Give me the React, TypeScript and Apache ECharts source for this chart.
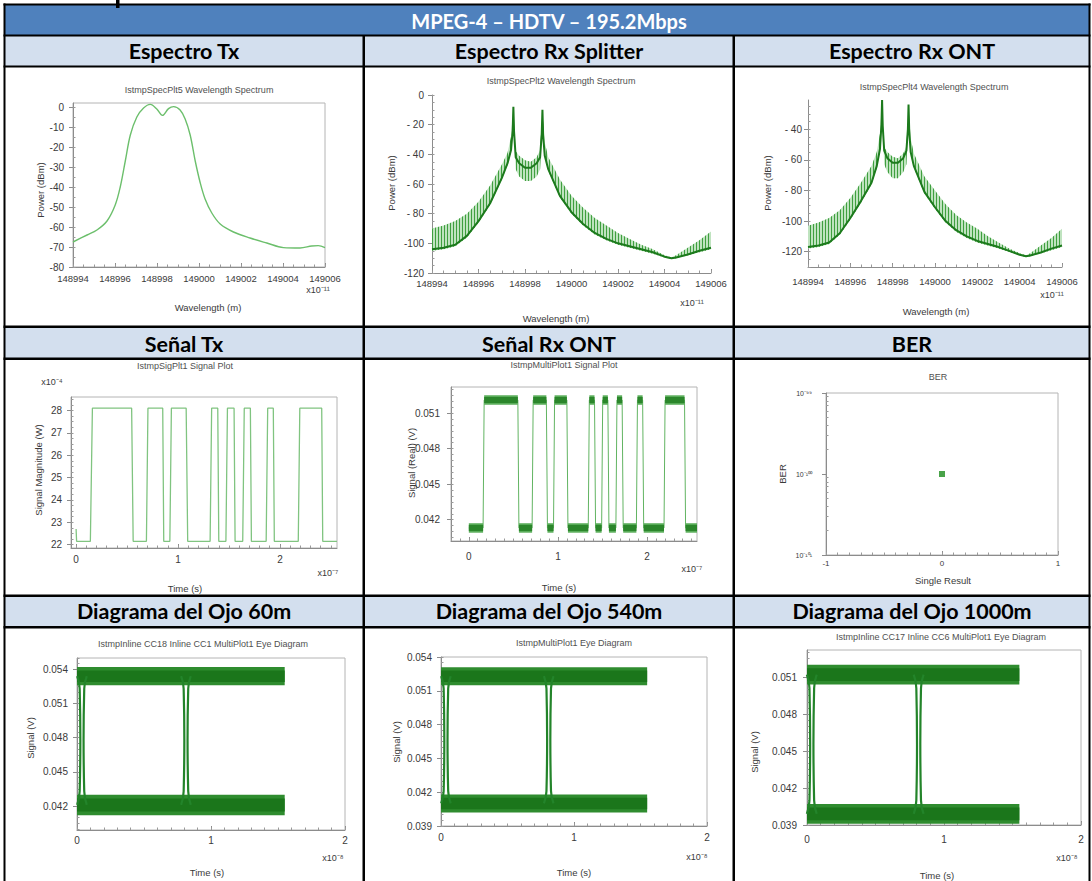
import { useEffect, useRef } from "react";
import * as echarts from "echarts";

// ---------- Espectro Tx : wavelength (x10^-11 m) / power (dBm)
const txSpecWl = [148994, 148994.67, 148995.14, 148995.62, 148996.01, 148996.25, 148996.49, 148996.73, 148997.04, 148997.36, 148997.68, 148997.99, 148998.26, 148998.55, 148998.79, 148999.1, 148999.34, 148999.58, 148999.82, 149000.06, 149000.29, 149000.61, 149001.01, 149001.64, 149002.43, 149003.23, 149004.02, 149004.81, 149005.37, 149005.68, 149006];
const txSpecDbm = [-67.5, -64, -61.5, -57, -49, -40, -27, -14, -5, -0.5, 1.3, -1, -4.2, -0.8, 0.2, -1.5, -6, -14, -27, -38, -46, -53, -58.5, -62.5, -65.5, -68, -70.3, -70.5, -69.5, -69.3, -70.3];

// ---------- Espectro Rx Splitter : ripple band (low/high edge) and dense core trace
const rxSplitWl = [148994, 148994.5, 148995, 148995.5, 148996, 148996.5, 148997, 148997.25, 148997.4, 148997.47, 148997.5, 148997.53, 148997.6, 148997.75, 148998, 148998.25, 148998.5, 148998.65, 148998.72, 148998.75, 148998.78, 148998.85, 148999, 148999.5, 149000, 149000.5, 149001, 149001.5, 149002, 149002.5, 149003, 149003.5, 149004, 149004.3, 149004.5, 149005, 149005.5, 149006];
const rxSplitLow = [-105, -104, -102, -96, -86, -74, -57, -47, -38, -25, -8, -25, -50, -55, -58, -58, -55, -50, -28, -10, -28, -42, -51, -69, -80, -88, -94, -98, -101, -103, -105, -107, -109.5, -110.5, -110, -108, -106, -104];
const rxSplitHigh = [-90, -88, -85, -80, -72, -61, -47, -39, -28, -14, -8, -15, -38, -41, -44, -45, -42, -37, -18, -10, -18, -32, -42, -57, -68, -76, -83, -88, -93, -97, -101, -104, -108, -109.5, -108, -103, -98, -92];
const rxSplitCore = [-104, -103, -101, -95, -85, -73, -56, -46, -37, -24, -8, -25, -42, -46, -49, -49, -46, -42, -26, -10, -27, -41, -50, -68, -79, -87, -93, -97, -100, -102, -104, -106, -109, -110, -109.5, -107.5, -105, -103];

// ---------- Espectro Rx ONT
const rxOntWl = rxSplitWl;
const rxOntLow = [-118, -117, -115, -109, -99, -88, -76, -65, -54, -38, -21, -38, -63, -68, -72, -72, -68, -63, -41, -24, -41, -56, -65, -82, -92, -101, -107, -111, -114, -116, -118, -120, -122.5, -123.5, -123, -121, -119, -117];
const rxOntHigh = [-103, -101, -98, -93, -85, -75, -64, -55, -43, -28, -21, -29, -52, -55, -58, -59, -56, -51, -32, -24, -32, -46, -56, -71, -80, -89, -96, -101, -105, -110, -114, -118, -121, -122.5, -121, -116, -111, -105];
const rxOntCore = [-117, -116, -114, -108, -98, -87, -75, -64, -53, -37, -21, -38, -54, -59, -62, -62, -59, -54, -40, -24, -40, -55, -64, -81, -91, -100, -106, -110, -113, -115, -117, -119.5, -122, -123, -122.5, -120.5, -118, -116];

// ---------- Señal Tx : time (x10^-7 s) / magnitude (x10^-4 W)
const txSigT = [0, 0.005, 0.14, 0.16, 0.545, 0.56, 0.69, 0.705, 0.85, 0.86, 0.92, 0.935, 1.08, 1.095, 1.315, 1.33, 1.39, 1.4, 1.47, 1.485, 1.55, 1.56, 1.635, 1.65, 1.71, 1.72, 1.865, 1.88, 1.935, 1.945, 2.18, 2.195, 2.41, 2.42, 2.56];
const txSigV = [22.7, 22.15, 22.15, 28.1, 28.1, 22.15, 22.15, 28.1, 28.1, 22.15, 22.15, 28.1, 28.1, 22.15, 22.15, 28.1, 28.1, 22.15, 22.15, 28.1, 28.1, 22.15, 22.15, 28.1, 28.1, 22.15, 22.15, 28.1, 28.1, 22.15, 22.15, 28.1, 28.1, 22.15, 22.15];

// ---------- Señal Rx ONT : time (x10^-7 s) / signal (V)
const rxSigEdges = [0.16, 0.55, 0.71, 0.87, 0.95, 1.1, 1.34, 1.41, 1.49, 1.56, 1.65, 1.72, 1.88, 1.95, 2.19, 2.42]; // first edge rises
const rxSigSpan = [0, 2.56];
const rxSigHighBand = [0.0517, 0.0525];
const rxSigLowBand = [0.0409, 0.0417];

// ---------- BER
const berResult = [0];
const berValue = [1e-100];

// ---------- Eye diagrams : time (x10^-8 s) / signal (V)
const eyeSpan = [0, 1.55];
const eye60High = [0.0526, 0.0542];
const eye60Low = [0.0412, 0.043];
const eye60Cross = [0.037, 0.813];
const eye540High = [0.0515, 0.0531];
const eye540Low = [0.0402, 0.0418];
const eye540Cross = [0.037, 0.81];
const eye1000High = [0.0504, 0.052];
const eye1000Low = [0.0391, 0.0407];
const eye1000Cross = [0.035, 0.815];

// ---------- tick positions
const range = (a: number, b: number, step: number) => {
  const out: number[] = [];
  const n = Math.round((b - a) / step);
  for (let i = 0; i <= n; i++) out.push(Math.round((a + i * step) * 1e7) / 1e7);
  return out;
};
const wlTicks = range(148994, 149006, 2);
const wlMinor = range(148994, 149006, 0.5);
const berMinor: number[] = [];
[-101, -100].forEach((e) => {
  for (let k = 2; k <= 9; k++) berMinor.push(e + Math.log10(k));
});

const SUP: Record<string, string> = { "-": "⁻", "0": "⁰", "1": "¹", "2": "²", "3": "³", "4": "⁴", "5": "⁵", "6": "⁶", "7": "⁷", "8": "⁸", "9": "⁹" };
const sup = (s: string) => s.split("").map((c) => SUP[c] || c).join("");

const dbFmt = (v: number) => (v < 0 && v > -100 ? "- " + Math.abs(v) : String(v));
const LABEL_FONT = "'Liberation Sans', Arial, sans-serif";

type AxisSpec = {
  min: number;
  max: number;
  major: number[];
  minor: number[];
  fmt?: (v: number) => string;
  margin: number;
  fontSize?: number;
};

function axisPair(grid: number, dim: "x" | "y", s: AxisSpec) {
  const common = {
    type: "value",
    gridIndex: grid,
    min: s.min,
    max: s.max,
    position: dim === "x" ? "bottom" : "left",
    splitLine: { show: false },
    splitArea: { show: false },
  };
  const main = {
    ...common,
    axisLine: { show: true, onZero: false, lineStyle: { color: "#8c8c8c", width: 1 } },
    axisTick: { show: true, customValues: s.major, inside: dim === "x", length: 4, lineStyle: { color: "#8c8c8c" } },
    axisLabel: {
      show: true,
      customValues: s.major,
      formatter: (v: number) => (s.fmt ? s.fmt(v) : String(v)),
      margin: s.margin,
      fontSize: s.fontSize ?? 10,
      color: "#3a3a3a",
      fontFamily: LABEL_FONT,
    },
  };
  const minor = {
    ...common,
    axisLine: { show: false, onZero: false },
    axisTick: { show: true, customValues: s.minor, inside: true, length: 2.5, lineStyle: { color: "#9a9a9a" } },
    axisLabel: { show: false },
  };
  return [main, minor];
}

const grids = [
  { left: 73, top: 103, width: 252, height: 164, frame: true },
  { left: 432, top: 95, width: 279, height: 178, frame: false },
  { left: 808, top: 100, width: 254, height: 167, frame: false },
  { left: 71, top: 397, width: 266, height: 151, frame: true },
  { left: 451, top: 387, width: 246, height: 154, frame: true },
  { left: 826, top: 393, width: 232, height: 162, frame: true },
  { left: 77, top: 658, width: 268, height: 172, frame: true },
  { left: 441, top: 657, width: 266, height: 169, frame: true },
  { left: 807, top: 650, width: 274, height: 175, frame: true },
];

const eyeYFmt = (v: number) => v.toFixed(3);

const xSpecs: AxisSpec[] = [
  { min: 148994, max: 149006, major: wlTicks, minor: wlMinor, margin: 6, fontSize: 9.5 },
  { min: 148994, max: 149006, major: wlTicks, minor: wlMinor, margin: 5, fontSize: 9.5 },
  { min: 148994, max: 149006, major: wlTicks, minor: wlMinor, margin: 9, fontSize: 9.5 },
  { min: -0.05, max: 2.56, major: [0, 1, 2], minor: range(0, 2.5, 0.1), margin: 6 },
  { min: -0.2, max: 2.56, major: [0, 1, 2], minor: range(-0.2, 2.5, 0.1), margin: 10 },
  { min: -1, max: 1, major: [-1, 0, 1], minor: range(-1, 1, 0.1), margin: 4, fontSize: 8 },
  { min: 0, max: 2, major: [0, 1, 2], minor: range(0, 2, 0.1), margin: 5 },
  { min: 0, max: 2, major: [0, 1, 2], minor: range(0, 2, 0.1), margin: 6 },
  { min: 0, max: 2, major: [0, 1, 2], minor: range(0, 2, 0.1), margin: 9 },
];
const ySpecs: AxisSpec[] = [
  { min: -80, max: 2, major: range(-80, 0, 10), minor: range(-80, 0, 5), margin: 9 },
  { min: -120, max: 0, major: range(-120, 0, 20), minor: range(-120, 0, 5), margin: 8, fmt: dbFmt },
  { min: -130, max: -21, major: range(-120, -40, 20), minor: range(-130, -25, 5), margin: 6, fmt: dbFmt },
  { min: 21.85, max: 28.6, major: range(22, 28, 1), minor: range(22, 28.5, 0.25), margin: 9 },
  { min: 0.0402, max: 0.0532, major: range(0.042, 0.051, 0.003), minor: range(0.0405, 0.053, 0.0005), margin: 11, fmt: eyeYFmt },
  { min: -101, max: -99, major: [-101, -100, -99], minor: berMinor, margin: 14, fontSize: 7, fmt: (v) => "10" + sup(String(v)) },
  { min: 0.0399, max: 0.055, major: range(0.042, 0.054, 0.003), minor: range(0.04, 0.055, 0.0005), margin: 9, fmt: eyeYFmt },
  { min: 0.039, max: 0.054, major: range(0.039, 0.054, 0.003), minor: range(0.039, 0.054, 0.0005), margin: 9, fmt: eyeYFmt },
  { min: 0.039, max: 0.0532, major: range(0.039, 0.051, 0.003), minor: range(0.039, 0.053, 0.0005), margin: 10, fmt: eyeYFmt },
];

const titles: [string, number, number][] = [
  ["IstmpSpecPlt5 Wavelength Spectrum", 199, 90],
  ["IstmpSpecPlt2 Wavelength Spectrum", 561, 81],
  ["IstmpSpecPlt4 Wavelength Spectrum", 934, 87],
  ["IstmpSigPlt1 Signal Plot", 185, 366],
  ["IstmpMultiPlot1 Signal Plot", 564, 365],
  ["BER", 938, 377],
  ["IstmpInline CC18 Inline CC1 MultiPlot1 Eye Diagram", 203, 644],
  ["IstmpMultiPlot1 Eye Diagram", 574, 643],
  ["IstmpInline CC17 Inline CC6 MultiPlot1 Eye Diagram", 941, 637],
];
const yNames: [string, number, number][] = [
  ["Power (dBm)", 40, 190],
  ["Power (dBm)", 391, 183],
  ["Power (dBm)", 767, 183],
  ["Signal Magnitude (W)", 38, 470],
  ["Signal (Real) (V)", 411, 463],
  ["BER", 782, 474],
  ["Signal (V)", 30, 738],
  ["Signal (V)", 396, 742],
  ["Signal (V)", 754, 752],
];
const xNames: [string, number, number][] = [
  ["Wavelength (m)", 208, 307],
  ["Wavelength (m)", 556, 318],
  ["Wavelength (m)", 936, 311],
  ["Time (s)", 185, 588],
  ["Time (s)", 559, 587],
  ["Single Result", 943, 580],
  ["Time (s)", 207, 872],
  ["Time (s)", 574, 872],
  ["Time (s)", 937, 875],
];
const exponents: [string, number, number][] = [
  ["x10" + sup("-11"), 318, 290],
  ["x10" + sup("-11"), 692, 303],
  ["x10" + sup("-11"), 1052, 295],
  ["x10" + sup("-4"), 52, 382],
  ["x10" + sup("-7"), 328, 573],
  ["x10" + sup("-7"), 692, 569],
  ["x10" + sup("-8"), 333, 858],
  ["x10" + sup("-8"), 697, 857],
  ["x10" + sup("-8"), 1067, 858],
];

const headerRows: [string, string, string, number][] = [
  ["Espectro Tx", "Espectro Rx Splitter", "Espectro Rx ONT", 51],
  ["Señal Tx", "Señal Rx ONT", "BER", 344],
  ["Diagrama del Ojo 60m", "Diagrama del Ojo 540m", "Diagrama del Ojo 1000m", 611],
];

function buildTable() {
  const els: any[] = [];
  const black = "#000";
  els.push({ type: "rect", shape: { x: 0, y: 0, width: 1092, height: 881 }, style: { fill: "#fff" }, z: -10 });
  els.push({ type: "rect", shape: { x: 4, y: 5, width: 1086, height: 30 }, style: { fill: "#4f81bd" }, z: -5 });
  [[36, 30], [327, 31], [596, 31]].forEach(([y, h]) =>
    els.push({ type: "rect", shape: { x: 4, y, width: 1086, height: h }, style: { fill: "#d3dfee" }, z: -5 })
  );
  const hLines: [number, number][] = [[3.5, 2], [34.5, 2], [65.5, 2], [325.5, 2.5], [357.5, 2.5], [594.5, 2.5], [626, 2.5]];
  hLines.forEach(([y, h]) => els.push({ type: "rect", shape: { x: 3.5, y, width: 1087, height: h }, style: { fill: black }, z: 5 }));
  els.push({ type: "rect", shape: { x: 3.5, y: 3.5, width: 2, height: 880 }, style: { fill: black }, z: 5 });
  els.push({ type: "rect", shape: { x: 1088.5, y: 3.5, width: 2, height: 880 }, style: { fill: black }, z: 5 });
  els.push({ type: "rect", shape: { x: 362.5, y: 35, width: 2.5, height: 850 }, style: { fill: black }, z: 5 });
  els.push({ type: "rect", shape: { x: 732.5, y: 35, width: 2.5, height: 850 }, style: { fill: black }, z: 5 });
  // stroke of a heading glyph that sits just above the table
  els.push({ type: "rect", shape: { x: 116, y: 0, width: 3.5, height: 8 }, style: { fill: black }, z: 5 });
  els.push({
    type: "text", x: 549, y: 20.5, z: 6,
    style: { text: "MPEG-4 – HDTV – 195.2Mbps", fill: "#fff", fontSize: 20, fontWeight: "bold", fontFamily: "Lato", align: "center", verticalAlign: "middle" },
  });
  const cx = [184, 549, 912];
  headerRows.forEach((row) => {
    for (let i = 0; i < 3; i++) {
      els.push({
        type: "text", x: cx[i], y: row[3], z: 6,
        style: { text: row[i] as string, fill: "#000", fontSize: 21.5, fontWeight: "bold", fontFamily: "Lato", align: "center", verticalAlign: "middle" },
      });
    }
  });
  const small = (t: string, x: number, y: number, size: number, color: string, rot = 0) => ({
    type: "text", x, y, rotation: rot, z: 6,
    style: { text: t, fill: color, fontSize: size, fontFamily: LABEL_FONT, align: "center", verticalAlign: "middle" },
  });
  titles.forEach(([t, x, y]) => els.push(small(t, x, y, 9, "#505050")));
  yNames.forEach(([t, x, y]) => els.push(small(t, x, y, 9.5, "#3a3a3a", Math.PI / 2)));
  xNames.forEach(([t, x, y]) => els.push(small(t, x, y, 9.5, "#3a3a3a")));
  exponents.forEach(([t, x, y]) => els.push(small(t, x, y, 9, "#3a3a3a")));
  return els;
}

// polygon between a low and a high edge, drawn through the grid's axes:
// a light green base with vertical hatching over it
const ribbon = (wl: number[], lo: number[], hi: number[], hatch: any) => (params: any, api: any) => {
  if (params.dataIndex !== 0) return null;
  const pts: number[][] = [];
  for (let i = 0; i < wl.length; i++) pts.push(api.coord([wl[i], hi[i]]));
  for (let i = wl.length - 1; i >= 0; i--) pts.push(api.coord([wl[i], lo[i]]));
  return {
    type: "group",
    children: [
      { type: "polygon", shape: { points: pts }, style: { fill: "#bfe3bf" } },
      { type: "polygon", shape: { points: pts }, style: { fill: hatch } },
    ],
  };
};

// noisy level band: outer rect plus a darker core
const band = (outer: string, inner: string) => (params: any, api: any) => {
  const t0 = api.value(0), t1 = api.value(1), lo = api.value(2), hi = api.value(3);
  const a = api.coord([t0, hi]);
  const b = api.coord([t1, lo]);
  const h = b[1] - a[1];
  return {
    type: "group",
    children: [
      { type: "rect", shape: { x: a[0], y: a[1], width: b[0] - a[0], height: h }, style: { fill: outer } },
      { type: "rect", shape: { x: a[0], y: a[1] + h * 0.18, width: b[0] - a[0], height: h * 0.64 }, style: { fill: inner } },
    ],
  };
};

function eyeSeries(g: number, hi: number[], lo: number[], cross: number[]) {
  const out: any[] = [];
  out.push({
    type: "custom", xAxisIndex: 2 * g, yAxisIndex: 2 * g,
    renderItem: band("#2f8c2f", "#1b761b"),
    encode: { x: [0, 1], y: [2, 3] },
    data: [[eyeSpan[0], eyeSpan[1], hi[0], hi[1]], [eyeSpan[0], eyeSpan[1], lo[0], lo[1]]],
    z: 3,
  });
  const hiMid = (hi[0] + hi[1]) / 2;
  const loMid = (lo[0] + lo[1]) / 2;
  const mid = (hiMid + loMid) / 2;
  cross.forEach((c) => {
    [-1, 1].forEach((side) => {
      out.push({
        type: "line", xAxisIndex: 2 * g, yAxisIndex: 2 * g, smooth: 0.5, showSymbol: false, z: 4,
        lineStyle: { color: "#23842a", width: 2.2 },
        data: [
          [c + side * 0.036, hiMid],
          [c + side * 0.017, hi[0] - 0.0003],
          [c + side * 0.012, mid],
          [c + side * 0.017, lo[1] + 0.0003],
          [c + side * 0.036, loMid],
        ],
      });
    });
  });
  return out;
}

function rxSignal() {
  const hiMid = (rxSigHighBand[0] + rxSigHighBand[1]) / 2;
  const loMid = (rxSigLowBand[0] + rxSigLowBand[1]) / 2;
  const pts: number[][] = [[rxSigSpan[0], loMid]];
  const segs: number[][] = [];
  let level = 0;
  let start = rxSigSpan[0];
  rxSigEdges.forEach((e) => {
    const from = level ? hiMid : loMid;
    const to = level ? loMid : hiMid;
    pts.push([e, from], [e + 0.012, to]);
    const bandLv = level ? rxSigHighBand : rxSigLowBand;
    segs.push([start, e, bandLv[0], bandLv[1]]);
    start = e + 0.012;
    level = 1 - level;
  });
  const lastBand = level ? rxSigHighBand : rxSigLowBand;
  segs.push([start, rxSigSpan[1], lastBand[0], lastBand[1]]);
  pts.push([rxSigSpan[1], level ? hiMid : loMid]);
  return [
    {
      type: "line", xAxisIndex: 8, yAxisIndex: 8, showSymbol: false, z: 3,
      lineStyle: { color: "#62b462", width: 1 }, data: pts,
    },
    {
      type: "custom", xAxisIndex: 8, yAxisIndex: 8, z: 4,
      renderItem: band("#5aad5a", "#2b862b"),
      encode: { x: [0, 1], y: [2, 3] },
      data: segs,
    },
  ];
}

export default function App() {
  const ref = useRef<HTMLDivElement>(null);
  useEffect(() => {
    if (!ref.current) return;
    const chart = echarts.init(ref.current, undefined, { renderer: "svg" });

    // vertical hatching that stands in for the dense spectral ripple
    const cv = document.createElement("canvas");
    cv.width = 3;
    cv.height = 4;
    const ctx = cv.getContext("2d")!;
    ctx.fillStyle = "#3f9f3f";
    ctx.fillRect(0, 0, 1, 4);
    const hatch = { image: cv, repeat: "repeat" };

    const xAxis: any[] = [];
    const yAxis: any[] = [];
    for (let g = 0; g < 9; g++) {
      xAxis.push(...axisPair(g, "x", xSpecs[g]));
      yAxis.push(...axisPair(g, "y", ySpecs[g]));
    }

    const series: any[] = [
      {
        type: "line", xAxisIndex: 0, yAxisIndex: 0, smooth: 0.35, showSymbol: false,
        lineStyle: { color: "#6cbf6c", width: 1.4 },
        data: txSpecWl.map((w, i) => [w, txSpecDbm[i]]),
      },
      {
        type: "custom", xAxisIndex: 2, yAxisIndex: 2, z: 2,
        renderItem: ribbon(rxSplitWl, rxSplitLow, rxSplitHigh, hatch),
        encode: { x: 0, y: [1, 2] },
        data: rxSplitWl.map((w, i) => [w, rxSplitLow[i], rxSplitHigh[i]]),
      },
      {
        type: "line", xAxisIndex: 2, yAxisIndex: 2, showSymbol: false, z: 3,
        lineStyle: { color: "#1c7a1c", width: 2 },
        data: rxSplitWl.map((w, i) => [w, rxSplitCore[i]]),
      },
      {
        type: "custom", xAxisIndex: 4, yAxisIndex: 4, z: 2,
        renderItem: ribbon(rxOntWl, rxOntLow, rxOntHigh, hatch),
        encode: { x: 0, y: [1, 2] },
        data: rxOntWl.map((w, i) => [w, rxOntLow[i], rxOntHigh[i]]),
      },
      {
        type: "line", xAxisIndex: 4, yAxisIndex: 4, showSymbol: false, z: 3,
        lineStyle: { color: "#1c7a1c", width: 2 },
        data: rxOntWl.map((w, i) => [w, rxOntCore[i]]),
      },
      {
        type: "line", xAxisIndex: 6, yAxisIndex: 6, showSymbol: false,
        lineStyle: { color: "#80c480", width: 1.3 },
        data: txSigT.map((t, i) => [t, txSigV[i]]),
      },
      ...rxSignal(),
      {
        type: "scatter", xAxisIndex: 10, yAxisIndex: 10, symbol: "rect", symbolSize: 6,
        itemStyle: { color: "#1c8c1c" },
        data: berResult.map((r, i) => [r, Math.log10(berValue[i])]),
      },
      ...eyeSeries(6, eye60High, eye60Low, eye60Cross),
      ...eyeSeries(7, eye540High, eye540Low, eye540Cross),
      ...eyeSeries(8, eye1000High, eye1000Low, eye1000Cross),
    ];

    chart.setOption({
      animation: false,
      backgroundColor: "#fff",
      grid: grids.map((g) => ({
        left: g.left, top: g.top, width: g.width, height: g.height,
        show: g.frame, borderColor: "#b4b4b4", borderWidth: 1, backgroundColor: "transparent",
        containLabel: false,
      })),
      xAxis,
      yAxis,
      series,
      graphic: { elements: buildTable() },
    });
    return () => chart.dispose();
  }, []);
  return <div ref={ref} style={{ position: "absolute", left: 0, top: 0, width: 1092, height: 881 }} />;
}
